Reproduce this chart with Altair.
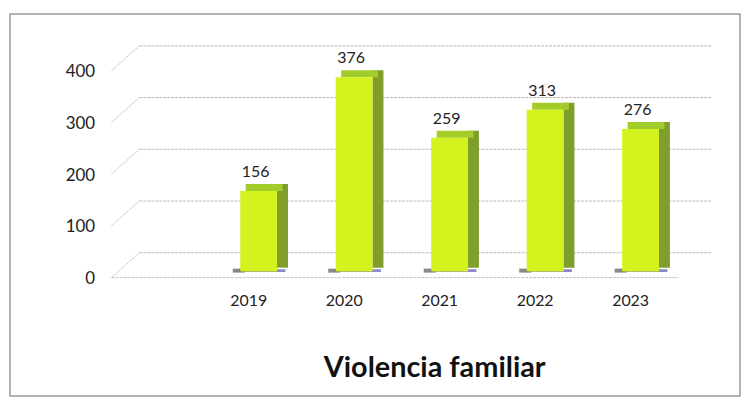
import altair as alt
import pandas as pd

years = ["2019", "2020", "2021", "2022", "2023"]
cases = [156, 376, 259, 313, 276]
ticks = [0, 100, 200, 300, 400]
title_text = ["Violencia familiar"]

df = pd.DataFrame({"year": years, "cases": cases})
gdf = pd.DataFrame({"tick": ticks})

W, H = 480, 208
FONT = "Lato"

xscale = alt.Scale(domain=years, paddingInner=0.615, paddingOuter=0.3075)
yscale = alt.Scale(domain=[0, 400], nice=False, zero=True)

xenc = alt.X("year:N", sort=years, scale=xscale,
             axis=alt.Axis(title=None, labelAngle=0, ticks=False, domain=False,
                           labelPadding=21, labelOffset=-10, labelFontSize=16,
                           labelColor="#222222", labelFont=FONT))
yaxis = alt.Axis(title=None, values=ticks, ticks=False, domain=False, grid=False,
                 offset=113, labelPadding=4, labelFontSize=17, labelColor="#222222",
                 labelFont=FONT, labelOffset=7)

# chart frame
frame = alt.Chart(pd.DataFrame({"a": [0]})).mark_rect(
    fill=None, stroke="#9a9a9a", strokeWidth=1.5
).encode(x=alt.value(-202), x2=alt.value(532), y=alt.value(-51), y2=alt.value(333))

# back-wall gridlines
grid = alt.Chart(gdf).mark_rule(color="#b8b8b8", strokeWidth=1, strokeDash=[3, 1], yOffset=-19).encode(
    y=alt.Y("tick:Q", scale=yscale, axis=yaxis),
    x=alt.value(-72), x2=alt.value(W + 23)
)
# diagonal side-wall lines
diag = alt.Chart(gdf).mark_rule(color="#c4c4c4", strokeWidth=1, strokeDash=[3, 1],
                                 yOffset=6, y2Offset=-19).encode(
    y=alt.Y("tick:Q", scale=yscale), y2=alt.Y2("tick:Q"),
    x=alt.value(-100), x2=alt.value(-72)
)
floor = alt.Chart(gdf[gdf.tick == 0]).mark_rule(color="#c4c4c4", strokeWidth=1, strokeDash=[3, 1],
                                                 yOffset=6).encode(
    y=alt.Y("tick:Q", scale=yscale), x=alt.value(-100), x2=alt.value(W - 10)
)

base = alt.Chart(df)

shadow = base.mark_tick(color="#5e54b0", thickness=3, size=46, xOffset=4, yOffset=-1).encode(
    x=xenc, y=alt.datum(0, scale=yscale)
)
smudge = base.mark_tick(color="#555555", thickness=4, size=12, xOffset=-20, yOffset=-1).encode(
    x=xenc, y=alt.datum(0, scale=yscale)
)
side = base.mark_bar(width=11, xOffset=24, yOffset=-7, y2Offset=-4, color="#7f9e2c").encode(
    x=xenc, y=alt.Y("cases:Q", scale=yscale), y2=alt.datum(0)
)
top = base.mark_bar(width=37, xOffset=5.5, yOffset=-7, color="#a2cc2a").encode(
    x=xenc, y=alt.Y("cases:Q", scale=yscale), y2=alt.Y2("cases:Q")
)
front = base.mark_bar(width=37, color="#d4f21e").encode(
    x=xenc, y=alt.Y("cases:Q", scale=yscale)
)
labels = base.mark_text(baseline="bottom", dy=-11, dx=-3, fontSize=16, font=FONT,
                        color="#222222").encode(
    x=xenc, y=alt.Y("cases:Q", scale=yscale), text="cases:Q"
)
title = alt.Chart(pd.DataFrame({"t": title_text})).mark_text(
    fontSize=29, fontWeight="bold", font=FONT, color="#111111", baseline="alphabetic", align="center"
).encode(x=alt.value(225), y=alt.value(314), text="t:N")

chart = alt.layer(frame, grid, diag, floor, shadow, smudge, side, top, front, labels, title).properties(
    width=W, height=H,
    background="white",
    autosize=alt.AutoSizeParams(type="none"),
    padding={"left": 204, "top": 56, "right": 54, "bottom": 125},
).configure_view(strokeWidth=0, stroke=None)

chart.save("out.html", embed_options={"renderer": "svg", "actions": False})
